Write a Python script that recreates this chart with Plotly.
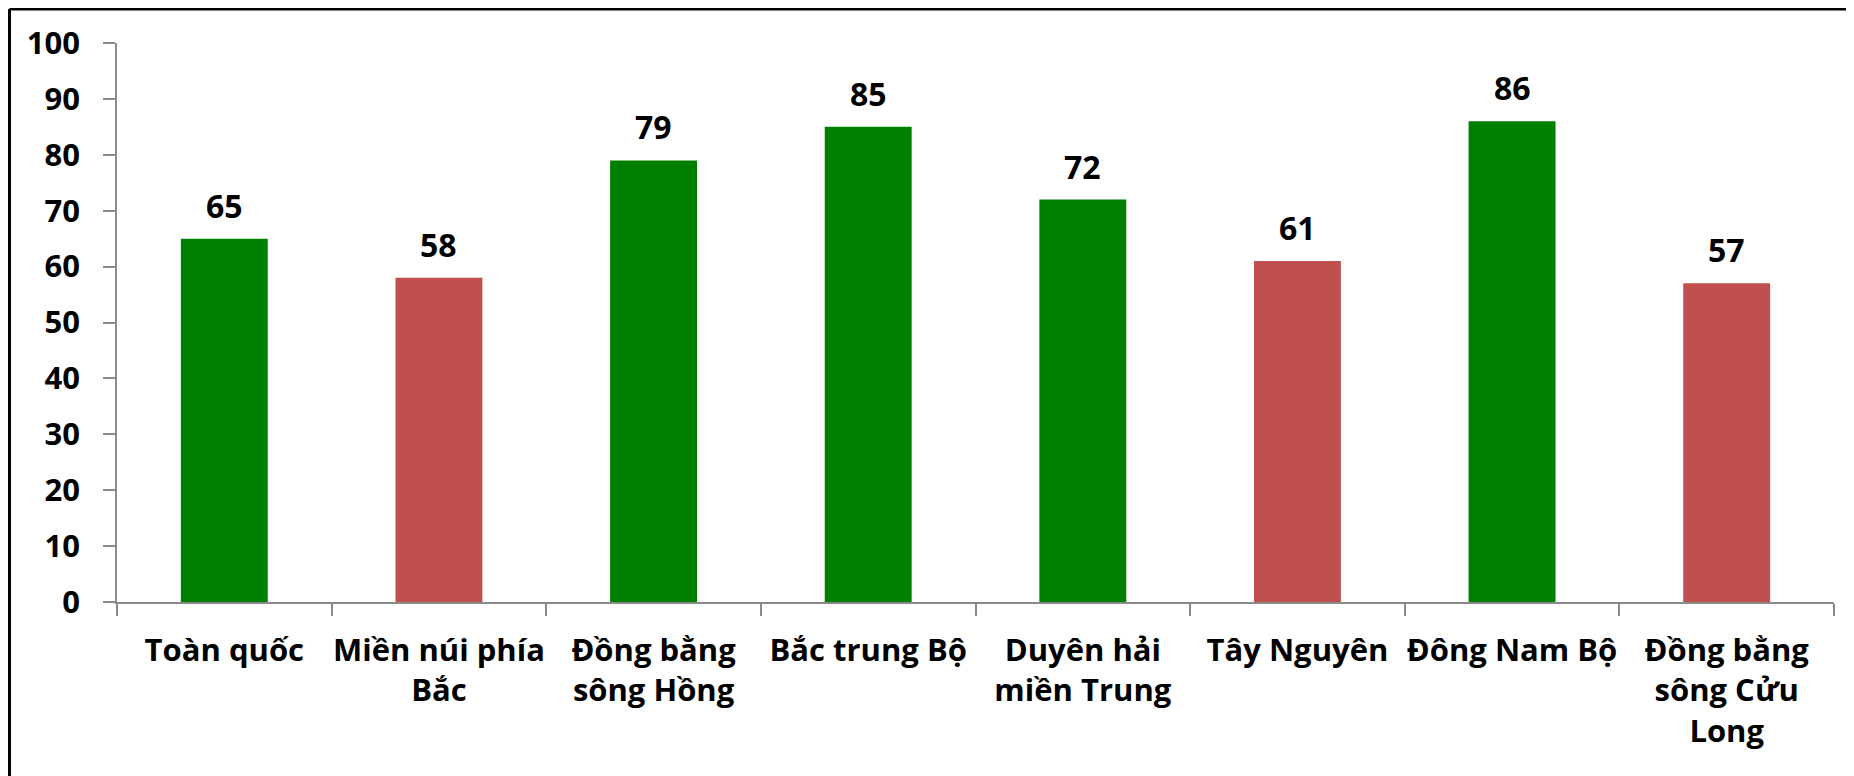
import plotly.graph_objects as go

regions = ["Toàn quốc", "Miền núi phía<br>Bắc", "Đồng bằng<br>sông Hồng", "Bắc trung Bộ",
           "Duyên hải<br>miền Trung", "Tây Nguyên", "Đông Nam Bộ", "Đồng bằng<br>sông Cửu<br>Long"]
values = [65, 58, 79, 85, 72, 61, 86, 57]
bar_colors = ["#008000", "#C0504D", "#008000", "#008000", "#008000", "#C0504D", "#008000", "#C0504D"]

W, H = 1854, 776
# page body has an 8px margin, so the figure is offset by 8px
ml, mr, mt, mb = 109, 28, 35, 182
font = "Open Sans"
axis_grey = "#8a8a8a"

fig = go.Figure(go.Bar(x=regions, y=values, marker_color=bar_colors, marker_line_width=0))

# data labels above the bars
for r, v in zip(regions, values):
    fig.add_annotation(x=r, y=v, text="<b>%d</b>" % v, showarrow=False, yanchor="bottom",
                       yshift=10, font=dict(family=font, size=32, color="black"))

pw = W - ml - mr
ph = H - mt - mb
fx = (1.5 - ml) / pw
fy = (H - mb - 1) / ph
# left and top frame lines of the chart area
fig.add_shape(type="line", xref="paper", yref="paper", x0=fx, x1=fx,
              y0=fy, y1=(H - mb - H) / ph, line=dict(color="black", width=3))
fig.add_shape(type="line", xref="paper", yref="paper", x0=fx, x1=(W - ml) / pw,
              y0=fy, y1=fy, line=dict(color="black", width=3))

fig.update_layout(
    width=W, height=H,
    margin=dict(l=ml, r=mr, t=mt, b=mb),
    plot_bgcolor="white", paper_bgcolor="white",
    bargap=0.595, showlegend=False,
    font=dict(family=font, size=31, color="black"),
)
fig.update_xaxes(showline=True, linecolor=axis_grey, linewidth=1.5, ticks="outside", ticklen=12,
                 tickcolor=axis_grey, tickwidth=1.5, tickson="boundaries", showgrid=False,
                 tickangle=0, automargin=False,
                 tickfont=dict(family=font, size=31, color="black", weight="bold"),
                 ticklabelstandoff=20)
fig.update_yaxes(range=[0, 100], dtick=10, showline=True, linecolor=axis_grey, linewidth=1.5,
                 ticks="outside", ticklen=12, tickcolor=axis_grey, tickwidth=1.5, showgrid=False,
                 zeroline=False, automargin=False,
                 tickfont=dict(family=font, size=31, color="black", weight="bold"),
                 ticklabelstandoff=17)

fig.write_html("out.html")
